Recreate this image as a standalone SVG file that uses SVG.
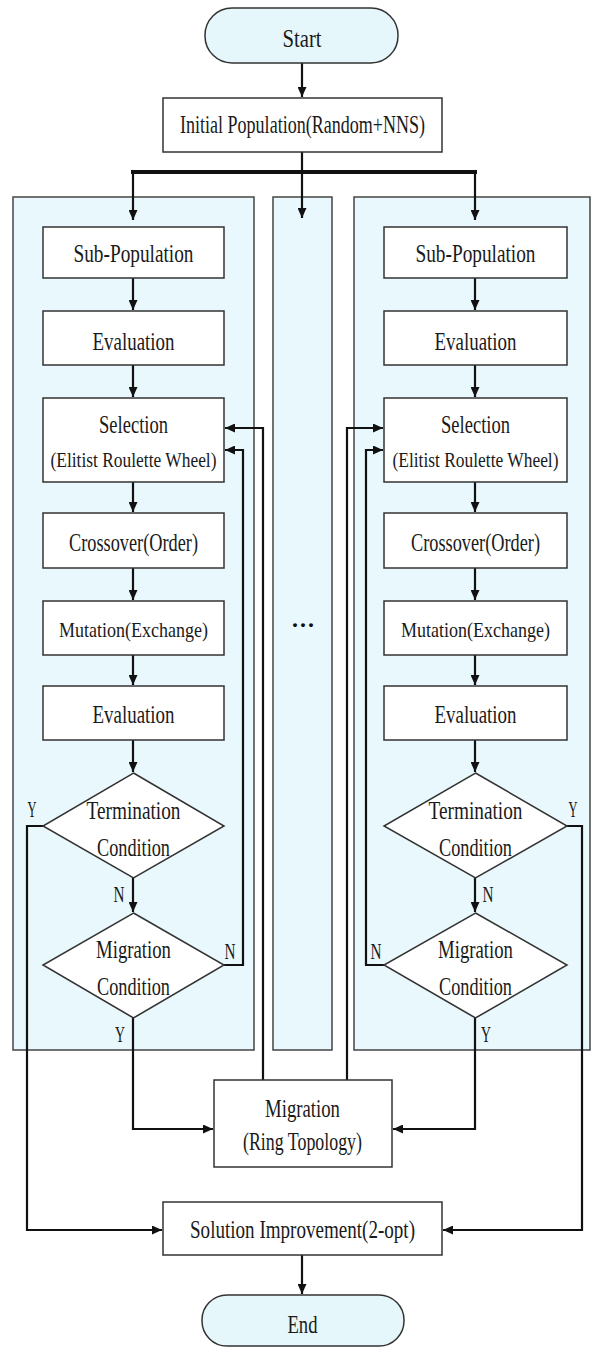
<svg xmlns="http://www.w3.org/2000/svg" width="595" height="1347" viewBox="0 0 595 1347">
<defs>
<style>
.cont{fill:#e9f8fc;stroke:#444;stroke-width:1.5}
.box{fill:#fff;stroke:#333;stroke-width:1.5}
.pill{fill:#e6f7fb;stroke:#333;stroke-width:1.5}
.t{font-family:"Liberation Serif",serif;font-size:25px;fill:#1a1a1a;text-anchor:middle}
.s{font-family:"Liberation Serif",serif;font-size:22px;fill:#1a1a1a;text-anchor:middle}
.l{font-family:"Liberation Serif",serif;font-size:23px;fill:#1a1a1a;text-anchor:middle}
.c{fill:none;stroke:#111;stroke-width:2.2;stroke-linejoin:miter}
.bus{fill:none;stroke:#111;stroke-width:4}
</style>
<marker id="ah" markerUnits="userSpaceOnUse" markerWidth="10" markerHeight="9" refX="10" refY="4.5" orient="auto">
<path d="M0,0 L10,4.5 L0,9 z" fill="#111"/>
</marker>
</defs>
<rect width="595" height="1347" fill="#fff"/>

<g id="containers">
<rect id="island-left" class="cont" x="13" y="197" width="241" height="853"/>
<rect id="island-middle" class="cont" x="273" y="197" width="59" height="853"/>
<rect id="island-right" class="cont" x="354" y="197" width="236" height="853"/>
</g>

<g id="connectors">
<line class="c" x1="302" y1="63" x2="302" y2="97" marker-end="url(#ah)"/>
<line class="c" x1="302" y1="152" x2="302" y2="172"/>
<line class="bus" x1="131" y1="172" x2="477" y2="172"/>
<line class="c" x1="133" y1="172" x2="133" y2="220" marker-end="url(#ah)"/>
<line class="c" x1="302" y1="172" x2="302" y2="218" marker-end="url(#ah)"/>
<line class="c" x1="475" y1="172" x2="475" y2="220" marker-end="url(#ah)"/>
<line class="c" x1="133" y1="278" x2="133" y2="310" marker-end="url(#ah)"/>
<line class="c" x1="133" y1="365" x2="133" y2="397" marker-end="url(#ah)"/>
<line class="c" x1="133" y1="482" x2="133" y2="512" marker-end="url(#ah)"/>
<line class="c" x1="133" y1="568" x2="133" y2="600" marker-end="url(#ah)"/>
<line class="c" x1="133" y1="655" x2="133" y2="685" marker-end="url(#ah)"/>
<line class="c" x1="133" y1="740" x2="133" y2="772" marker-end="url(#ah)"/>
<line class="c" x1="133" y1="878" x2="133" y2="912" marker-end="url(#ah)"/>
<line class="c" x1="475" y1="278" x2="475" y2="310" marker-end="url(#ah)"/>
<line class="c" x1="475" y1="365" x2="475" y2="397" marker-end="url(#ah)"/>
<line class="c" x1="475" y1="482" x2="475" y2="512" marker-end="url(#ah)"/>
<line class="c" x1="475" y1="568" x2="475" y2="600" marker-end="url(#ah)"/>
<line class="c" x1="475" y1="655" x2="475" y2="685" marker-end="url(#ah)"/>
<line class="c" x1="475" y1="740" x2="475" y2="772" marker-end="url(#ah)"/>
<line class="c" x1="475" y1="878" x2="475" y2="912" marker-end="url(#ah)"/>
<polyline class="c" points="263,1080 263,428 225,428" marker-end="url(#ah)"/>
<polyline class="c" points="224,965 243,965 243,450 225,450" marker-end="url(#ah)"/>
<polyline class="c" points="347,1080 347,428 383,428" marker-end="url(#ah)"/>
<polyline class="c" points="385,965 366,965 366,450 383,450" marker-end="url(#ah)"/>
<polyline class="c" points="43,826 27,826 27,1230 162,1230" marker-end="url(#ah)"/>
<polyline class="c" points="567,826 582,826 582,1230 443,1230" marker-end="url(#ah)"/>
<polyline class="c" points="133,1018 133,1129 213,1129" marker-end="url(#ah)"/>
<polyline class="c" points="475,1018 475,1129 393,1129" marker-end="url(#ah)"/>
<line class="c" x1="302" y1="1255" x2="302" y2="1294" marker-end="url(#ah)"/>
</g>

<g id="start"><rect class="pill" x="205" y="8" width="193" height="55" rx="27" ry="27"/><text class="t" x="302" y="47" textLength="39" lengthAdjust="spacingAndGlyphs">Start</text></g>
<g id="init"><rect class="box" x="163" y="98" width="279" height="54"/><text class="t" x="302.5" y="133" textLength="245" lengthAdjust="spacingAndGlyphs">Initial Population(Random+NNS)</text></g>

<g id="l-subpop"><rect class="box" x="43" y="227" width="181" height="51"/><text class="t" x="133.5" y="262" textLength="120" lengthAdjust="spacingAndGlyphs">Sub-Population</text></g>
<g id="l-eval1"><rect class="box" x="43" y="311" width="181" height="54"/><text class="t" x="133.5" y="350" textLength="82" lengthAdjust="spacingAndGlyphs">Evaluation</text></g>
<g id="l-select"><rect class="box" x="43" y="398" width="181" height="84"/><text class="t" x="133.5" y="433" textLength="69" lengthAdjust="spacingAndGlyphs">Selection</text><text class="s" x="133.5" y="467" textLength="166" lengthAdjust="spacingAndGlyphs">(Elitist Roulette Wheel)</text></g>
<g id="l-cross"><rect class="box" x="43" y="513" width="181" height="55"/><text class="t" x="133.5" y="551" textLength="129" lengthAdjust="spacingAndGlyphs">Crossover(Order)</text></g>
<g id="l-mut"><rect class="box" x="43" y="601" width="181" height="54"/><text class="s" x="133.5" y="637" textLength="149" lengthAdjust="spacingAndGlyphs">Mutation(Exchange)</text></g>
<g id="l-eval2"><rect class="box" x="43" y="686" width="181" height="54"/><text class="t" x="133.5" y="723" textLength="82" lengthAdjust="spacingAndGlyphs">Evaluation</text></g>
<g id="l-term"><polygon class="box" points="133.5,773 224,826 133.5,878 43,826"/><text class="t" x="133.5" y="819" textLength="94" lengthAdjust="spacingAndGlyphs">Termination</text><text class="t" x="133.5" y="856" textLength="73" lengthAdjust="spacingAndGlyphs">Condition</text></g>
<g id="l-migc"><polygon class="box" points="133.5,913 224,965 133.5,1018 43,965"/><text class="t" x="133.5" y="958" textLength="75" lengthAdjust="spacingAndGlyphs">Migration</text><text class="t" x="133.5" y="995" textLength="73" lengthAdjust="spacingAndGlyphs">Condition</text></g>

<g id="r-subpop"><rect class="box" x="384" y="227" width="183" height="51"/><text class="t" x="475.5" y="262" textLength="120" lengthAdjust="spacingAndGlyphs">Sub-Population</text></g>
<g id="r-eval1"><rect class="box" x="384" y="311" width="183" height="54"/><text class="t" x="475.5" y="350" textLength="82" lengthAdjust="spacingAndGlyphs">Evaluation</text></g>
<g id="r-select"><rect class="box" x="384" y="398" width="183" height="84"/><text class="t" x="475.5" y="433" textLength="69" lengthAdjust="spacingAndGlyphs">Selection</text><text class="s" x="475.5" y="467" textLength="166" lengthAdjust="spacingAndGlyphs">(Elitist Roulette Wheel)</text></g>
<g id="r-cross"><rect class="box" x="384" y="513" width="183" height="55"/><text class="t" x="475.5" y="551" textLength="129" lengthAdjust="spacingAndGlyphs">Crossover(Order)</text></g>
<g id="r-mut"><rect class="box" x="384" y="601" width="183" height="54"/><text class="s" x="475.5" y="637" textLength="149" lengthAdjust="spacingAndGlyphs">Mutation(Exchange)</text></g>
<g id="r-eval2"><rect class="box" x="384" y="686" width="183" height="54"/><text class="t" x="475.5" y="723" textLength="82" lengthAdjust="spacingAndGlyphs">Evaluation</text></g>
<g id="r-term"><polygon class="box" points="475.5,773 567,826 475.5,878 384,826"/><text class="t" x="475.5" y="819" textLength="94" lengthAdjust="spacingAndGlyphs">Termination</text><text class="t" x="475.5" y="856" textLength="73" lengthAdjust="spacingAndGlyphs">Condition</text></g>
<g id="r-migc"><polygon class="box" points="475.5,913 567,965 475.5,1018 384,965"/><text class="t" x="475.5" y="958" textLength="75" lengthAdjust="spacingAndGlyphs">Migration</text><text class="t" x="475.5" y="995" textLength="73" lengthAdjust="spacingAndGlyphs">Condition</text></g>

<g id="dots"><text x="303" y="627" font-family="Liberation Serif, serif" font-size="24" font-weight="bold" fill="#111" text-anchor="middle" textLength="22" lengthAdjust="spacing">...</text></g>

<g id="labels">
<text class="l" x="32" y="817" textLength="9" lengthAdjust="spacingAndGlyphs">Y</text>
<text class="l" x="119" y="902" textLength="11" lengthAdjust="spacingAndGlyphs">N</text>
<text class="l" x="230" y="959" textLength="11" lengthAdjust="spacingAndGlyphs">N</text>
<text class="l" x="120" y="1042" textLength="10" lengthAdjust="spacingAndGlyphs">Y</text>
<text class="l" x="573" y="817" textLength="9" lengthAdjust="spacingAndGlyphs">Y</text>
<text class="l" x="488" y="902" textLength="11" lengthAdjust="spacingAndGlyphs">N</text>
<text class="l" x="376" y="959" textLength="11" lengthAdjust="spacingAndGlyphs">N</text>
<text class="l" x="486" y="1042" textLength="10" lengthAdjust="spacingAndGlyphs">Y</text>
</g>

<g id="migration"><rect class="box" x="214" y="1080" width="178" height="87"/><text class="t" x="302.5" y="1117" textLength="75" lengthAdjust="spacingAndGlyphs">Migration</text><text class="t" x="302.5" y="1150" textLength="119" lengthAdjust="spacingAndGlyphs">(Ring Topology)</text></g>
<g id="improve"><rect class="box" x="163" y="1202" width="279" height="53"/><text class="t" x="302.5" y="1238" textLength="225" lengthAdjust="spacingAndGlyphs">Solution Improvement(2-opt)</text></g>
<g id="end"><rect class="pill" x="202" y="1295" width="202" height="51" rx="25" ry="25"/><text class="t" x="302.5" y="1333" textLength="30" lengthAdjust="spacingAndGlyphs">End</text></g>
</svg>
